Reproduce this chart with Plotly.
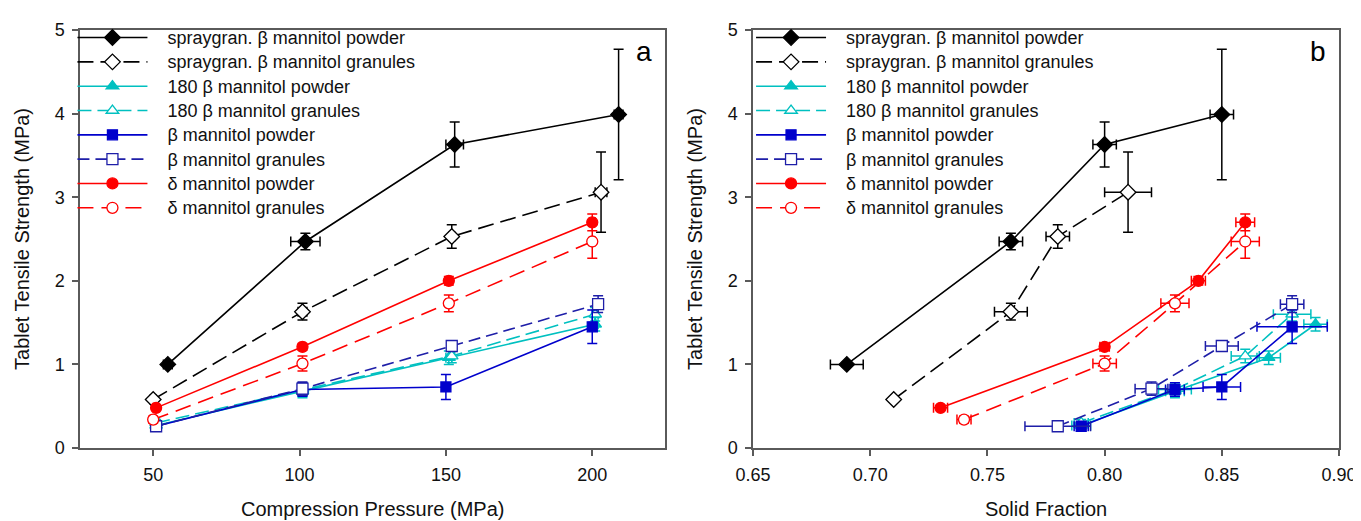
import plotly.graph_objects as go

# ---------------- data ----------------
names = [
    "spraygran. β mannitol powder",
    "spraygran. β mannitol granules",
    "180 β mannitol powder",
    "180 β mannitol granules",
    "β mannitol powder",
    "β mannitol granules",
    "δ mannitol powder",
    "δ mannitol granules",
]

pressure = [
    [55, 102, 153, 209],
    [50, 101, 152, 203],
    [51, 101, 151, 201],
    [51, 101, 152, 201],
    [51, 101, 150, 200],
    [51, 101, 152, 202],
    [51, 101, 151, 200],
    [50, 101, 151, 200],
]
pressure_err = [
    [1.5, 5.0, 3.0, 1.5],
    [1.0, 1.5, 1.0, 2.0],
    [1.0, 1.5, 1.0, 1.0],
    [1.0, 1.5, 1.0, 1.0],
    [1.0, 1.0, 1.0, 1.0],
    [1.0, 1.0, 1.0, 1.0],
    [1.0, 1.0, 1.0, 1.0],
    [1.0, 1.0, 1.0, 1.0],
]
solid_fraction = [
    [0.69, 0.76, 0.80, 0.85],
    [0.71, 0.76, 0.78, 0.81],
    [0.79, 0.83, 0.87, 0.89],
    [0.79, 0.83, 0.86, 0.88],
    [0.79, 0.83, 0.85, 0.88],
    [0.78, 0.82, 0.85, 0.88],
    [0.73, 0.80, 0.84, 0.86],
    [0.74, 0.80, 0.83, 0.86],
]
solid_fraction_err = [
    [0.007, 0.005, 0.005, 0.005],
    [0.001, 0.007, 0.005, 0.010],
    [0.004, 0.004, 0.005, 0.005],
    [0.003, 0.007, 0.006, 0.008],
    [0.003, 0.004, 0.008, 0.015],
    [0.014, 0.007, 0.007, 0.005],
    [0.003, 0.002, 0.003, 0.004],
    [0.003, 0.005, 0.006, 0.006],
]
strength = [
    [1.00, 2.47, 3.63, 3.99],
    [0.58, 1.63, 2.53, 3.06],
    [0.27, 0.68, 1.08, 1.48],
    [0.30, 0.70, 1.10, 1.60],
    [0.26, 0.70, 0.73, 1.45],
    [0.26, 0.71, 1.22, 1.72],
    [0.48, 1.21, 2.00, 2.70],
    [0.34, 1.01, 1.73, 2.47],
]
strength_err = [
    [0.03, 0.10, 0.27, 0.78],
    [0.03, 0.10, 0.14, 0.48],
    [0.04, 0.08, 0.08, 0.08],
    [0.04, 0.08, 0.08, 0.08],
    [0.04, 0.08, 0.15, 0.20],
    [0.04, 0.08, 0.05, 0.10],
    [0.03, 0.04, 0.05, 0.10],
    [0.04, 0.09, 0.10, 0.20],
]

# ---------------- styles ----------------
colors = ["#000000", "#000000", "#00C0C0", "#00C0C0", "#0000CC", "#1E1EA8", "#FF0000", "#FF0000"]
symbols = ["diamond", "diamond-open", "triangle-up", "triangle-up-open",
           "square", "square-open", "circle", "circle-open"]
sizes = [12, 12, 11, 11, 10, 11, 11, 11]
dashes = ["solid", "16px,7px", "solid", "14px,6px", "solid", "12px,6px", "solid", "16px,8px"]

FONT = "Liberation Sans, Arial, sans-serif"
PAD = "\u00a0\u00a0\u00a0"

fig = go.Figure()

for panel, (xs, xerrs, xa, ya, lg) in enumerate([
    (pressure, pressure_err, "x", "y", "legend"),
    (solid_fraction, solid_fraction_err, "x2", "y2", "legend2"),
]):
    for i, name in enumerate(names):
        open_m = symbols[i].endswith("open")
        fig.add_trace(go.Scatter(
            x=xs[i], y=strength[i],
            error_x=dict(type="data", array=xerrs[i], color=colors[i], thickness=1.5, width=5),
            error_y=dict(type="data", array=strength_err[i], color=colors[i], thickness=1.5, width=5),
            mode="lines+markers",
            name='<span style="font-size:18px">' + PAD + name + '</span>',
            line=dict(color=colors[i], width=1.6, dash=dashes[i]),
            marker=dict(symbol=symbols[i].replace("-open", ""), size=sizes[i],
                        color="white" if open_m else colors[i],
                        line=dict(color=colors[i], width=1.3)),
            xaxis=xa, yaxis=ya, legend=lg,
            legendgroup=f"p{panel}_{i}",
        ))

axis_common = dict(
    showline=True, linecolor="#5a5a5a", linewidth=1.5, mirror=True,
    ticks="outside", ticklen=6, tickwidth=1.5, tickcolor="#5a5a5a",
    showgrid=False, zeroline=False,
    tickfont=dict(family=FONT, size=18, color="#111111"),
)

legend_common = dict(
    font=dict(family=FONT, size=16.4, color="#111111"),
    bgcolor="rgba(0,0,0,0)", borderwidth=0,
    tracegroupgap=0, itemwidth=70,
    xanchor="left", yanchor="top", y=1.023,
    itemclick=False, itemdoubleclick=False,
)

fig.update_layout(
    width=1361, height=521,
    margin=dict(l=72, r=19, t=22, b=73),
    paper_bgcolor="white", plot_bgcolor="white",
    font=dict(family=FONT, color="#111111"),
    showlegend=True,
    xaxis=dict(domain=[0, 0.465], range=[25, 225], tickvals=[50, 100, 150, 200],
               ticktext=["50", "100", "150", "200"], ticklabelstandoff=4,
               title=dict(text="Compression Pressure (MPa)", font=dict(family=FONT, size=20), standoff=18),
               anchor="y", **axis_common),
    yaxis=dict(range=[0, 5], tickvals=[0, 1, 2, 3, 4, 5], ticklabelstandoff=4,
               title=dict(text="Tablet Tensile Strength (MPa)", font=dict(family=FONT, size=20), standoff=20),
               anchor="x", **axis_common),
    xaxis2=dict(domain=[0.5346, 1], range=[0.65, 0.90],
                tickvals=[0.65, 0.70, 0.75, 0.80, 0.85, 0.90],
                ticktext=["0.65", "0.70", "0.75", "0.80", "0.85", "0.90"], ticklabelstandoff=4,
                title=dict(text="Solid Fraction", font=dict(family=FONT, size=20), standoff=18),
                anchor="y2", **axis_common),
    yaxis2=dict(range=[0, 5], tickvals=[0, 1, 2, 3, 4, 5], ticklabelstandoff=4,
                title=dict(text="Tablet Tensile Strength (MPa)", font=dict(family=FONT, size=20), standoff=20),
                anchor="x2", **axis_common),
    legend=dict(x=-0.006, **legend_common),
    legend2=dict(x=0.533, **legend_common),
    annotations=[
        dict(text="a", xref="x domain", yref="y domain", x=0.981, y=0.99, yanchor="top",
             showarrow=False, font=dict(family=FONT, size=28, color="#000000")),
        dict(text="b", xref="x2 domain", yref="y2 domain", x=0.981, y=0.99, yanchor="top",
             showarrow=False, font=dict(family=FONT, size=28, color="#000000")),
    ],
)

fig.write_html("out.html")
